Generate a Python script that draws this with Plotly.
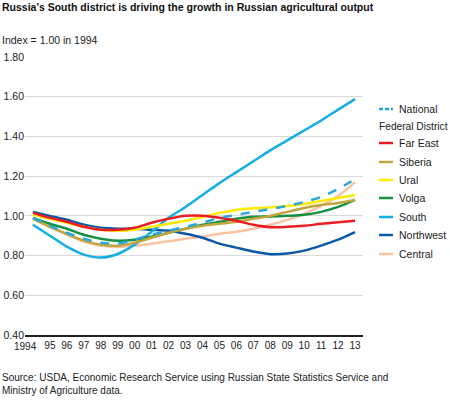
import plotly.graph_objects as go

years = list(range(1994, 2014))
tick_labels = ["1994", "95", "96", "97", "98", "99", "00", "01", "02", "03",
               "04", "05", "06", "07", "08", "09", "10", "11", "12", "13"]

national  = [0.99, 0.95, 0.915, 0.885, 0.865, 0.86, 0.88, 0.905, 0.925, 0.945,
             0.965, 0.99, 1.005, 1.02, 1.035, 1.05, 1.07, 1.095, 1.135, 1.185]
far_east  = [1.015, 0.99, 0.97, 0.945, 0.93, 0.93, 0.94, 0.965, 0.985, 1.0,
             1.0, 0.99, 0.975, 0.955, 0.943, 0.945, 0.95, 0.96, 0.968, 0.975]
siberia   = [0.985, 0.945, 0.91, 0.875, 0.855, 0.85, 0.865, 0.89, 0.915, 0.935,
             0.95, 0.96, 0.97, 0.985, 1.0, 1.02, 1.04, 1.055, 1.065, 1.08]
ural      = [1.005, 0.985, 0.965, 0.945, 0.93, 0.925, 0.93, 0.945, 0.96, 0.975,
             0.995, 1.015, 1.03, 1.038, 1.043, 1.05, 1.06, 1.075, 1.09, 1.105]
volga     = [0.99, 0.96, 0.935, 0.905, 0.885, 0.875, 0.88, 0.895, 0.915, 0.935,
             0.955, 0.97, 0.985, 0.995, 0.997, 1.0, 1.005, 1.02, 1.045, 1.08]
south     = [0.955, 0.9, 0.845, 0.805, 0.79, 0.808, 0.855, 0.92, 0.99, 1.045,
             1.105, 1.165, 1.22, 1.275, 1.33, 1.38, 1.43, 1.48, 1.535, 1.588]
northwest = [1.02, 1.0, 0.98, 0.955, 0.94, 0.935, 0.935, 0.93, 0.925, 0.91,
             0.89, 0.86, 0.84, 0.82, 0.807, 0.81, 0.825, 0.85, 0.88, 0.918]
central   = [0.985, 0.945, 0.905, 0.87, 0.85, 0.845, 0.85, 0.86, 0.872, 0.885,
             0.895, 0.91, 0.92, 0.935, 0.955, 0.98, 1.01, 1.05, 1.10, 1.17]

legend_order = ["National", "Far East", "Siberia", "Ural", "Volga", "South", "Northwest", "Central"]

FONT = "Liberation Sans, Arial, Helvetica, sans-serif"

# drawing order (bottom to top)
series = [
    ("Central", central, "#F9C3A0", "solid"),
    ("Northwest", northwest, "#0A58A6", "solid"),
    ("South", south, "#13AEE6", "solid"),
    ("Volga", volga, "#159241", "solid"),
    ("Ural", ural, "#FFEA00", "solid"),
    ("Siberia", siberia, "#C2A53D", "solid"),
    ("Far East", far_east, "#EC1C24", "solid"),
    ("National", national, "#2AA6DE", "dash"),
]
style = {s[0]: (s[2], s[3]) for s in series}

fig = go.Figure()
for name, vals, color, dash in series:
    fig.add_trace(go.Scatter(
        x=years, y=vals, name=name, mode="lines", showlegend=False,
        line=dict(color=color, width=2.5, dash=dash, shape="spline", smoothing=0.8)))

L, T, PW, PH = 25, 57, 338, 278
def px(x):
    return (x - L) / PW
def py(y):
    return 1 - (y - T) / PH

shapes = []
annotations = []
legend_y = {"National": 109, "Far East": 143, "Siberia": 162, "Ural": 180,
            "Volga": 198, "South": 217, "Northwest": 235, "Central": 254}
for name in legend_order:
    color, dash = style[name]
    yy = py(legend_y[name])
    shapes.append(dict(type="line", xref="paper", yref="paper",
                       x0=px(379), x1=px(393), y0=yy, y1=yy,
                       line=dict(color=color, width=2.5,
                                 dash="4px,2px" if dash == "dash" else "solid")))
    annotations.append(dict(text=name, xref="paper", yref="paper", x=px(397), y=yy,
                            xanchor="left", yanchor="middle", showarrow=False,
                            font=dict(size=10.5, family=FONT, color="#222")))
annotations.append(dict(text="Federal District", xref="paper", yref="paper",
                        x=px(377), y=py(126), xanchor="left", yanchor="middle",
                        showarrow=False, font=dict(size=10.2, family=FONT, color="#222")))

# first category label, nudged left as in the reference
annotations.append(dict(text=tick_labels[0], xref="x", yref="paper", x=years[0], y=0,
                        xshift=-7, yshift=-4, xanchor="center", yanchor="top",
                        showarrow=False, font=dict(size=10, family=FONT, color="#222")))

annotations += [
    dict(text="<b>Russia's South district is driving the growth in Russian agricultural output</b>",
         xref="paper", yref="paper", x=px(0), y=py(7),
         xanchor="left", yanchor="middle", showarrow=False,
         font=dict(size=10.5, family=FONT, color="#111")),
    dict(text="Index = 1.00 in 1994",
         xref="paper", yref="paper", x=px(0), y=py(40),
         xanchor="left", yanchor="middle", showarrow=False,
         font=dict(size=10.5, family=FONT, color="#222")),
    dict(text="Source: USDA, Economic Research Service using Russian State Statistics Service and<br>Ministry of Agriculture data.",
         xref="paper", yref="paper", x=px(0), y=py(384),
         xanchor="left", yanchor="middle", align="left", showarrow=False,
         font=dict(size=10, family=FONT, color="#222")),
]

fig.update_layout(
    width=450, height=403,
    margin=dict(l=L, r=450 - L - PW, t=T, b=403 - T - PH, autoexpand=False),
    paper_bgcolor="white", plot_bgcolor="white",
    font=dict(family=FONT, size=10.5, color="#222"),
    showlegend=False,
    xaxis=dict(range=[1993.53, 2013.47], tickmode="array", tickvals=years[1:],
               ticktext=tick_labels[1:], tickangle=0, showgrid=False, showline=True,
               linecolor="#222", linewidth=1.5, ticks="", zeroline=False,
               tickfont=dict(size=10), automargin=False),
    yaxis=dict(range=[0.4, 1.8], dtick=0.2, tick0=0.4, tickformat=".2f",
               showgrid=True, gridcolor="#D9D9D9", gridwidth=1, ticks="",
               zeroline=False, showline=False, tickfont=dict(size=10.5),
               automargin=False),
    shapes=shapes,
    annotations=annotations,
)

fig.write_html("out.html", config={"displayModeBar": False},
               post_script="document.body.style.margin='0';")
